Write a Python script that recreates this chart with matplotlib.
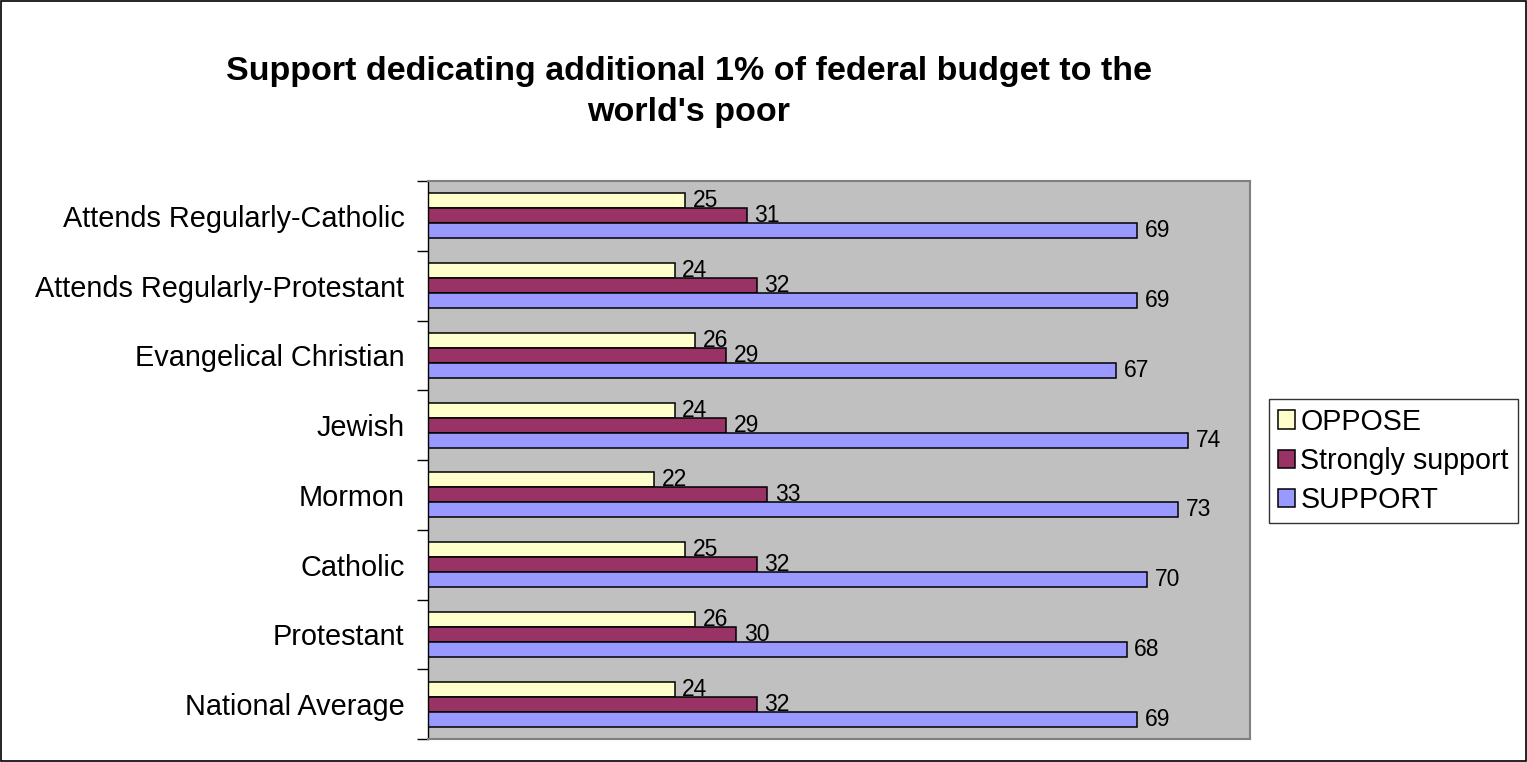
import matplotlib
matplotlib.use("Agg")
import matplotlib.pyplot as plt
import numpy as np
from matplotlib.patches import Rectangle

categories = ["National Average", "Protestant", "Catholic", "Mormon", "Jewish",
              "Evangelical Christian", "Attends Regularly-Protestant", "Attends Regularly-Catholic"]
oppose = [24, 26, 25, 22, 24, 26, 24, 25]
strongly = [32, 30, 32, 33, 29, 29, 32, 31]
support = [69, 68, 70, 73, 74, 67, 69, 69]
series_names = ["OPPOSE", "Strongly support", "SUPPORT"]
colors = ["#FFFFCC", "#993366", "#9999FF"]
title = "Support dedicating additional 1% of federal budget to the\nworld's poor"

plt.rcParams['font.family'] = ['Liberation Sans', 'DejaVu Sans']

fig = plt.figure(figsize=(15.27, 7.62), dpi=100)
fig.patches.append(Rectangle((0.0005, 0.001), 0.999, 0.998, transform=fig.transFigure,
                             fill=False, edgecolor='black', linewidth=1.2))
ax = fig.add_axes([428/1527, 1-739/762, (1250-428)/1527, (739-181)/762])
ax.set_facecolor("#C0C0C0")

y = np.arange(len(categories))
h = 0.214
offsets = [h, 0, -h]
for vals, off, col, name in zip([oppose, strongly, support], offsets, colors, series_names):
    bars = ax.barh(y + off, vals, height=h, color=col, edgecolor='black', linewidth=1.1, label=name)
    for b, v in zip(bars, vals):
        ax.annotate(str(v), (b.get_width(), b.get_y() + b.get_height()/2),
                    xytext=(5.5, 0), textcoords='offset points',
                    va='center', ha='left', fontsize=16.5)

ax.set_xlim(0, 80)
ax.set_ylim(-0.5, len(categories) - 0.5)
ax.set_xticks([])
ax.set_yticks(y)
ax.set_yticklabels(categories, fontsize=20.8)
ax.tick_params(axis='y', which='major', length=0, pad=17)
ax.set_yticks(np.arange(-0.5, len(categories), 1), minor=True)
ax.tick_params(axis='y', which='minor', length=8, width=1, color='black')
for s in ['top', 'right', 'bottom']:
    ax.spines[s].set_color('#808080')
    ax.spines[s].set_linewidth(1.5)
ax.spines['left'].set_color('black')
ax.spines['left'].set_linewidth(1)

fig.text(0.451, 1-92/762, title, ha='center', va='center', fontsize=24.5,
         fontweight='bold', linespacing=1.38)

handles, labels = ax.get_legend_handles_labels()
leg = fig.legend(handles, labels, loc='upper left', bbox_to_anchor=(1269/1527, 1-399/762),
                 fontsize=20.6, frameon=True, fancybox=False, handlelength=0.6, handleheight=0.6,
                 handletextpad=0.2, borderpad=0.3, labelspacing=0.4, borderaxespad=0)
leg.get_frame().set_edgecolor('black')
leg.get_frame().set_linewidth(1)

fig.savefig("out.png", dpi=100)
